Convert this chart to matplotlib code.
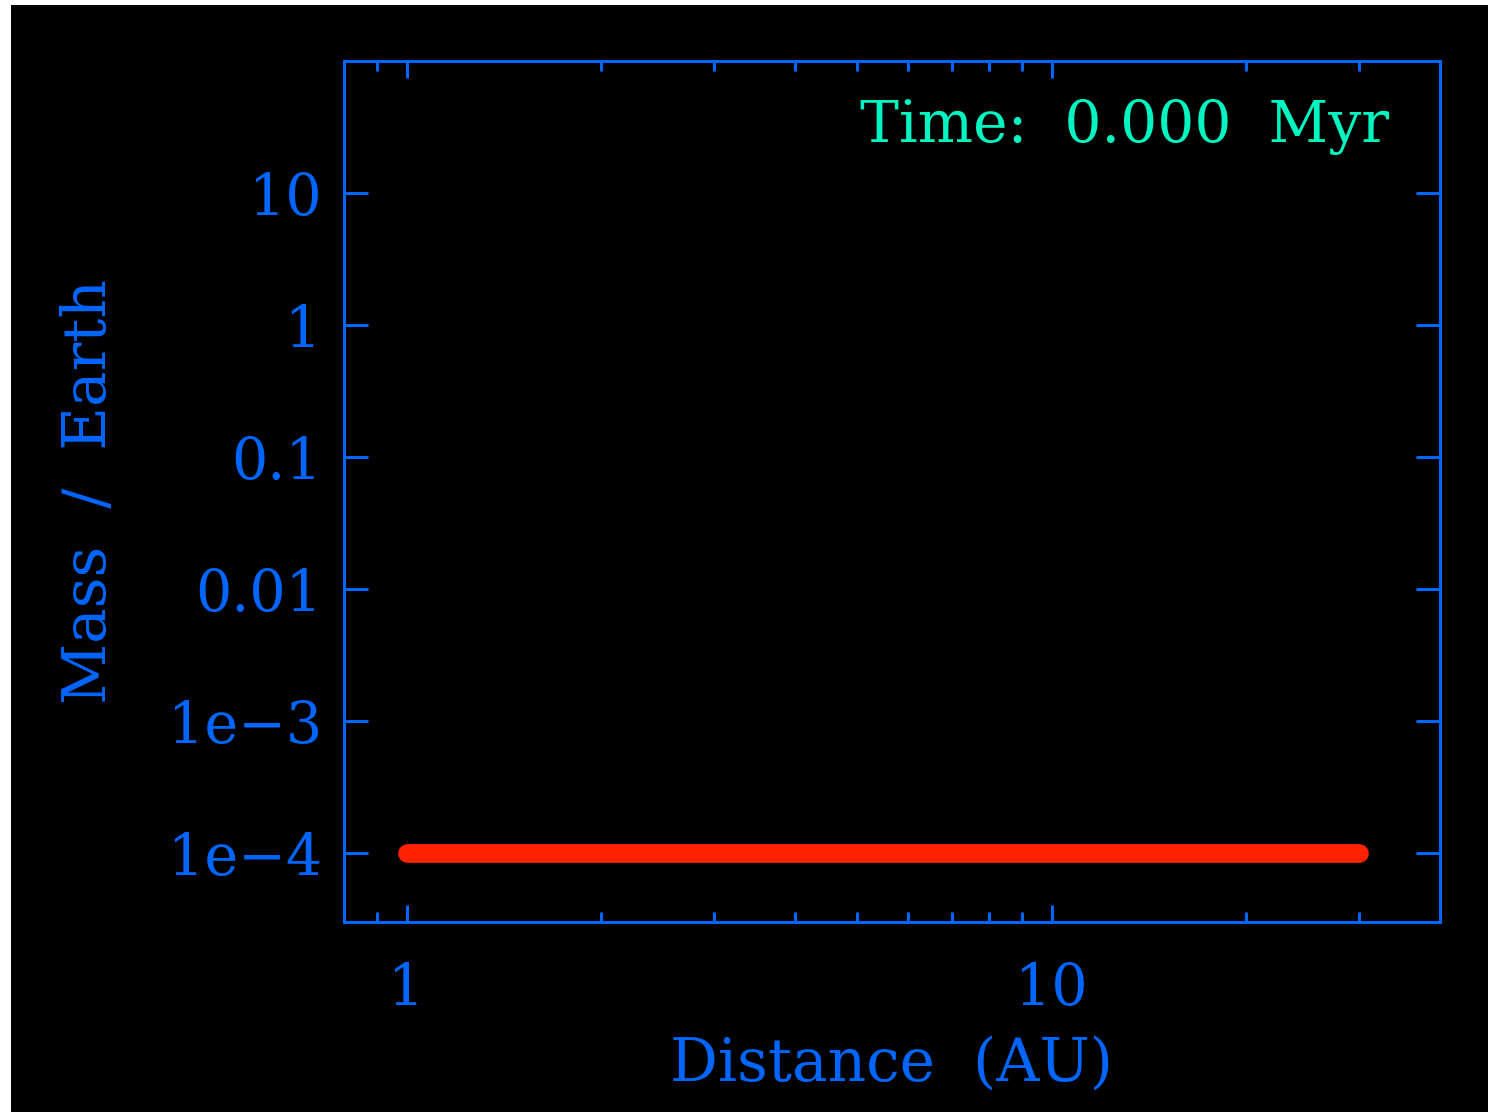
import matplotlib
matplotlib.use('Agg')
import matplotlib.pyplot as plt
from matplotlib.patches import Rectangle
from matplotlib.ticker import FixedLocator, FixedFormatter, NullLocator

# data: particle masses at t = 0
distance_au = [1.0, 30.0]
mass_earth = [1e-4, 1e-4]

y_ticks = [10, 1, 0.1, 0.01, 1e-3, 1e-4]
y_tick_labels = ['10', '1', '0.1', '0.01', '1e\u22123', '1e\u22124']
x_ticks = [1, 10]
x_tick_labels = ['1', '10']
x_minor = [0.9, 2, 3, 4, 5, 6, 7, 8, 9, 20, 30]

blue = '#0066FF'
red = '#FF2200'
green = '#00F5C0'
font = 'DejaVu Serif'

W, H = 1488, 1112
fig = plt.figure(figsize=(W / 100, H / 100), dpi=100, facecolor='white')
# black plotting area with thin white margin on top and left
fig.add_artist(Rectangle((11 / W, 0), 1 - 11 / W, 1 - 5 / H, transform=fig.transFigure,
                         facecolor='black', edgecolor='none', zorder=-10))

ax = fig.add_axes([344 / W, (H - 922) / H, (1440 - 344) / W, (922 - 61) / H])
ax.set_facecolor('black')
ax.set_xscale('log')
ax.set_yscale('log')
ax.set_xlim(0.8, 40)
ax.set_ylim(3e-5, 100)

ax.plot(distance_au, mass_earth, color=red, linewidth=13.5, solid_capstyle='round')

for s in ax.spines.values():
    s.set_color(blue)
    s.set_linewidth(2.2)

ax.xaxis.set_major_locator(FixedLocator(x_ticks))
ax.xaxis.set_major_formatter(FixedFormatter(x_tick_labels))
ax.xaxis.set_minor_locator(FixedLocator(x_minor))
ax.yaxis.set_major_locator(FixedLocator(y_ticks))
ax.yaxis.set_major_formatter(FixedFormatter(y_tick_labels))
ax.yaxis.set_minor_locator(NullLocator())

ax.tick_params(axis='both', which='both', direction='in', color=blue, labelcolor=blue,
               top=True, right=True, width=2.2)
ax.tick_params(axis='x', which='major', length=12, pad=28, labelsize=41)
ax.tick_params(axis='x', which='minor', length=7)
ax.tick_params(axis='y', which='major', length=17, pad=16, labelsize=41)
for lab in ax.get_xticklabels() + ax.get_yticklabels():
    lab.set_family(font)

ax.set_xlabel('Distance  (AU)', color=blue, fontsize=43, family=font, labelpad=13)
ax.set_ylabel('Mass  /  Earth', color=blue, fontsize=43, family=font, labelpad=36)

ax.text(0.954, 0.906, 'Time:  0.000  Myr', transform=ax.transAxes, ha='right', va='baseline',
        color=green, fontsize=42, family=font)

fig.savefig('out.png', dpi=100, facecolor=fig.get_facecolor())
